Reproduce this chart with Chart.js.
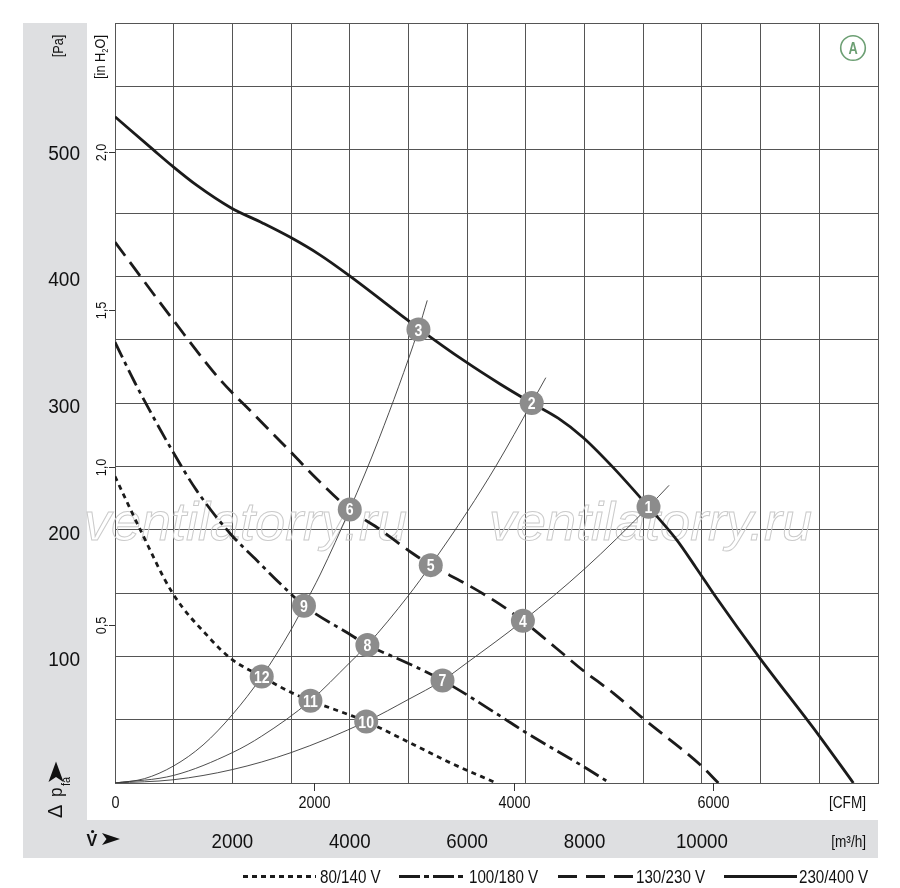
<!DOCTYPE html>
<html>
<head>
<meta charset="utf-8">
<title>Fan characteristic</title>
<script src="https://cdn.jsdelivr.net/npm/chart.js@4.4.1/dist/chart.umd.min.js"></script>
<style>
  html, body { margin: 0; padding: 0; background: #fff; }
  #wrap { width: 900px; height: 888px; position: relative; }
</style>
</head>
<body>
<div id="wrap"><canvas id="fanChart"></canvas></div>
<script>
// --- data (x = air flow in m³/h, y = pressure in Pa) ---
const curve230X = [0, 650, 980, 1390, 1980, 2520, 2980, 3490, 3980, 4970, 5170, 5960, 6560, 7100, 7550, 7970, 8490, 9090, 9570, 9900, 10250, 10980, 11970, 12580];
const curve230Y = [526, 500, 487, 472, 454, 442, 431, 417, 401, 366, 359, 333, 315, 300, 288, 273, 249, 218, 192, 170, 146, 99, 39, 0];

const curve130X = [0, 1000, 1760, 2410, 2980, 3440, 4000, 4520, 5080, 5380, 5990, 6560, 6950, 7530, 7970, 8490, 8970, 9980, 10280];
const curve130Y = [427, 365, 320, 289, 262, 240, 216, 200, 181, 172, 157, 141, 128, 106, 89, 71, 52, 14, 0];

const curve100X = [0, 340, 980, 1390, 1980, 2410, 2980, 3220, 3980, 4300, 4970, 5580, 6560, 6960, 7980, 8430];
const curve100Y = [348, 316, 262, 231, 196, 176, 150, 140, 118, 109, 95, 81, 53, 41, 13, 0];

const curve80X = [0, 430, 980, 1620, 1980, 2500, 2980, 3330, 3980, 4280, 4970, 5710, 6500];
const curve80Y = [242, 200, 150, 114, 98, 84, 72, 65, 54, 48.5, 33, 16, 0];

// thin system curves through the operating points
const sysAX = [0, 500, 1000, 1500, 2000, 2500, 3000, 3220, 3500, 4000, 4500, 5170, 5320];
const sysAY = [0, 3.4, 13.5, 30, 54, 84, 121, 140, 165, 216, 272, 358, 381];
const sysBX = [0, 1000, 2000, 2500, 3330, 4000, 4300, 5000, 5380, 6000, 6500, 7100, 7340];
const sysBY = [0, 6, 24, 37, 65, 95, 109, 148, 172, 214, 251, 300, 320];
const sysCX = [0, 1000, 2000, 3000, 4280, 5000, 5580, 6000, 6950, 8000, 9090, 9440];
const sysCY = [0, 2.6, 10.6, 24, 48.5, 66, 81, 95, 128, 169, 218, 235];

// numbered operating points
const opLabels = ['1', '2', '3', '4', '5', '6', '7', '8', '9', '10', '11', '12'];
const opX = [9090, 7100, 5170, 6950, 5380, 4000, 5580, 4300, 3220, 4280, 3330, 2500];
const opY = [218, 300, 358, 128, 172, 216, 81, 109, 140, 48.5, 65, 84];

// axis ticks
const paTicks = [100, 200, 300, 400, 500];
const inH2OTicks = [0.5, 1.0, 1.5, 2.0];
const inH2OLabels = ['0,5', '1,0', '1,5', '2,0'];
const cfmTicks = [0, 2000, 4000, 6000];
const m3hTicks = [2000, 4000, 6000, 8000, 10000];

const legendLabels = ['80/140 V', '100/180 V', '130/230 V', '230/400 V'];

const PA_PER_INH2O = 249.09;
const M3H_PER_CFM = 1.699;

const FONT = '"Liberation Sans", Arial, sans-serif';

function pts(xs, ys) {
    return xs.map((x, i) => ({ x: x, y: ys[i] }));
}

function curve(label, xs, ys, dash) {
    return {
        label: label,
        data: pts(xs, ys),
        showLine: true,
        pointRadius: 0,
        borderColor: '#1b1b1b',
        borderWidth: 2.8,
        borderDash: dash,
        cubicInterpolationMode: 'monotone',
        fill: false,
        order: 1
    };
}

function sysCurve(xs, ys) {
    return {
        data: pts(xs, ys),
        showLine: true,
        pointRadius: 0,
        borderColor: '#3a3a3a',
        borderWidth: 0.9,
        cubicInterpolationMode: 'monotone',
        fill: false,
        order: 2
    };
}

// condensed-looking text: horizontal squeeze, optional rotation
function drawText(c, s, x, y, size, align, sx, rot, weight) {
    c.save();
    c.translate(x, y);
    if (rot) c.rotate(-Math.PI / 2);
    c.scale(sx || 1, 1);
    c.font = (weight ? weight + ' ' : '') + size + 'px ' + FONT;
    c.textAlign = align || 'left';
    c.textBaseline = 'alphabetic';
    c.fillText(s, 0, 0);
    c.restore();
}

// --- drawing of panels, labels, legend, badge ---
const decorPlugin = {
    id: 'decor',
    beforeDraw(chart) {
        const c = chart.ctx;
        c.save();
        c.fillStyle = '#ffffff';
        c.fillRect(0, 0, chart.width, chart.height);
        c.fillStyle = '#dedfe1';
        c.fillRect(23, 23, 64, 835);
        c.fillRect(23, 820, 855, 38);
        c.restore();
    },
    beforeDatasetsDraw(chart) {
        // watermark (outlined)
        const c = chart.ctx;
        c.save();
        c.font = 'italic 54px ' + FONT;
        c.strokeStyle = '#cacaca';
        c.lineWidth = 1;
        c.strokeText('ventilatorry.ru', 84, 540);
        c.strokeText('ventilatorry.ru', 489, 540);
        c.restore();
    },
    afterDatasetsDraw(chart) {
        const c = chart.ctx;
        const meta = chart.getDatasetMeta(0);
        c.save();
        c.fillStyle = '#ffffff';
        meta.data.forEach((p, i) => {
            drawText(c, opLabels[i], p.x, p.y + 6, 16, 'center', 0.88, false, 'bold');
        });
        c.restore();
    },
    afterDraw(chart) {
        const c = chart.ctx;
        const xs = chart.scales.x;
        const ys = chart.scales.y;
        c.save();
        c.fillStyle = '#111';
        c.strokeStyle = '#333';
        c.lineWidth = 1;

        // Pa labels in the grey panel
        paTicks.forEach(v => {
            drawText(c, String(v), 80, ys.getPixelForValue(v) + 10, 20.5, 'right', 0.93);
        });
        drawText(c, '[Pa]', 63, 46, 15, 'center', 0.85, true);

        // in H2O labels and ticks
        inH2OTicks.forEach((v, i) => {
            const y = Math.round(ys.getPixelForValue(v * PA_PER_INH2O)) + 0.5;
            c.beginPath();
            c.moveTo(109, y);
            c.lineTo(115, y);
            c.stroke();
            drawText(c, inH2OLabels[i], 106, y, 15, 'center', 0.85, true);
        });
        c.save();
        c.translate(105, 57);
        c.rotate(-Math.PI / 2);
        c.scale(0.85, 1);
        c.textAlign = 'left';
        c.font = '15px ' + FONT;
        const w1 = c.measureText('[in H').width;
        const w3 = c.measureText('O]').width;
        c.font = '9px ' + FONT;
        const w2 = c.measureText('2').width;
        let xx = -(w1 + w2 + w3) / 2;
        c.font = '15px ' + FONT;
        c.fillText('[in H', xx, 0);
        xx += w1;
        c.font = '9px ' + FONT;
        c.fillText('2', xx, 3);
        xx += w2;
        c.font = '15px ' + FONT;
        c.fillText('O]', xx, 0);
        c.restore();

        // delta p_fa with arrow
        drawText(c, '\u0394', 62, 818, 20, 'left', 1, true);
        drawText(c, 'p', 62, 797, 19, 'left', 0.9, true);
        drawText(c, 'fa', 70, 786, 12, 'left', 0.9, true);
        c.beginPath();
        c.moveTo(56, 761.5);
        c.lineTo(63.5, 782);
        c.lineTo(56, 777);
        c.lineTo(48.5, 782);
        c.closePath();
        c.fill();

        // CFM axis
        cfmTicks.forEach(v => {
            const x = Math.round(xs.getPixelForValue(v * M3H_PER_CFM)) + 0.5;
            if (v > 0) {
                c.beginPath();
                c.moveTo(x, 783);
                c.lineTo(x, 791);
                c.stroke();
            }
            drawText(c, String(v), x, 808, 16, 'center', 0.9);
        });
        drawText(c, '[CFM]', 866, 808, 16, 'right', 0.85);

        // m3/h axis in the grey band
        m3hTicks.forEach(v => {
            drawText(c, String(v), xs.getPixelForValue(v), 848, 21, 'center', 0.89);
        });
        drawText(c, '[m\u00b3/h]', 866, 847, 16, 'right', 0.85);

        // V-dot with arrow
        drawText(c, 'V', 86.5, 846, 17, 'left', 0.95, false, 'bold');
        c.beginPath();
        c.arc(92.6, 831.5, 1.6, 0, Math.PI * 2);
        c.fill();
        c.beginPath();
        c.moveTo(120, 839);
        c.lineTo(102, 833);
        c.lineTo(106.5, 839);
        c.lineTo(102, 845);
        c.closePath();
        c.fill();

        // legend
        const legendY = 876.5;
        const samples = [
            { x0: 243, x1: 316, dash: [5, 4], tx: 320 },
            { x0: 399, x1: 466, dash: [21, 4, 5, 4], tx: 469 },
            { x0: 558, x1: 633, dash: [19, 9], tx: 636 },
            { x0: 724, x1: 797, dash: [], tx: 799 }
        ];
        c.strokeStyle = '#1b1b1b';
        c.lineWidth = 2.8;
        samples.forEach((s, i) => {
            c.setLineDash(s.dash);
            c.beginPath();
            c.moveTo(s.x0, legendY);
            c.lineTo(s.x1, legendY);
            c.stroke();
            c.setLineDash([]);
            drawText(c, legendLabels[i], s.tx, legendY + 6.5, 18.5, 'left', 0.82);
        });

        // badge "A"
        c.strokeStyle = '#6c9f73';
        c.fillStyle = '#6c9f73';
        c.lineWidth = 1.6;
        c.beginPath();
        c.arc(853, 48, 12.3, 0, Math.PI * 2);
        c.stroke();
        drawText(c, 'A', 853, 54, 16, 'center', 0.8, false, 'bold');
        c.restore();
    }
};

const fanChart = new Chart(document.getElementById('fanChart'), {
    type: 'scatter',
    data: {
        datasets: [
            {
                label: 'points',
                data: pts(opX, opY),
                showLine: false,
                pointRadius: 12,
                pointHoverRadius: 12,
                pointBackgroundColor: '#8c8c8c',
                pointBorderWidth: 0,
                order: 0
            },
            curve(legendLabels[3], curve230X, curve230Y, []),
            curve(legendLabels[2], curve130X, curve130Y, [17, 8]),
            curve(legendLabels[1], curve100X, curve100Y, [17, 5, 4, 5]),
            curve(legendLabels[0], curve80X, curve80Y, [5, 4.5]),
            sysCurve(sysAX, sysAY),
            sysCurve(sysBX, sysBY),
            sysCurve(sysCX, sysCY)
        ]
    },
    options: {
        responsive: true,
        maintainAspectRatio: false,
        animation: false,
        events: [],
        layout: { padding: { left: 115, top: 23, right: 22, bottom: 105 } },
        plugins: {
            legend: { display: false },
            tooltip: { enabled: false }
        },
        scales: {
            x: {
                type: 'linear',
                min: 0,
                max: 13000,
                ticks: { display: false, stepSize: 1000, maxTicksLimit: 40 },
                grid: { color: '#555', lineWidth: 1, drawTicks: false },
                border: { display: true, color: '#555' },
                afterFit: s => { s.height = 0; }
            },
            y: {
                type: 'linear',
                min: 0,
                max: 600,
                ticks: { display: false, stepSize: 50, maxTicksLimit: 40 },
                grid: { color: '#555', lineWidth: 1, drawTicks: false },
                border: { display: true, color: '#555' },
                afterFit: s => { s.width = 0; }
            }
        }
    },
    plugins: [decorPlugin]
});
</script>
</body>
</html>
